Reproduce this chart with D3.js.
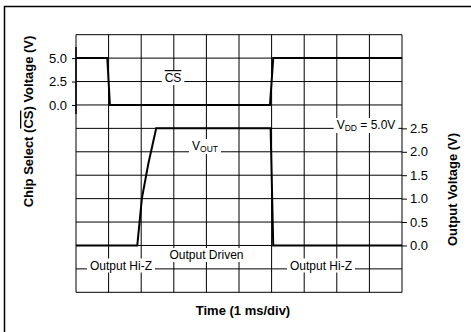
<!DOCTYPE html>
<html>
<head>
    <title>CS to Output Timing</title>
    <script src="https://d3js.org/d3.v7.min.js"></script>
    <style>
        body { margin: 0; background: #fff; }
        text { font-family: "Liberation Sans", Arial, sans-serif; fill: #000; }
    </style>
</head>
<body>
    <div id="chart"></div>

    <script>
        // Data (time in ms)
        var csTime = [0, 0.96, 1.04, 5.95, 6.05, 10];
        var csVolts = [5, 5, 0, 0, 5, 5];
        var outTime = [0, 1.88, 2.02, 2.22, 2.46, 5.97, 6.05, 10];
        var outVolts = [0, 0, 1.0, 1.75, 2.5, 2.5, 0, 0];

        var csTicks = [0, 2.5, 5];
        var csTickLabels = ["0.0", "2.5", "5.0"];
        var outTicks = [0, 0.5, 1, 1.5, 2, 2.5];
        var outTickLabels = ["0.0", "0.5", "1.0", "1.5", "2.0", "2.5"];

        var width = 471, height = 332;
        var plotL = 76, plotR = 402, plotT = 34.7, plotB = 292.3;

        var svg = d3.select("#chart").append("svg")
            .attr("width", width)
            .attr("height", height);

        // outer frame (runs off the right and bottom of the picture)
        svg.append("path")
            .attr("d", "M4.5," + height + " V6.5 H" + (width + 5))
            .attr("fill", "none")
            .attr("stroke", "#000")
            .attr("stroke-width", 1.5);

        // scales
        var x = d3.scaleLinear().domain([0, 10]).range([plotL, plotR]);
        var div = d3.scaleLinear().domain([0, 11]).range([plotT, plotB]);   // vertical divisions
        var yCS = d3.scaleLinear().domain([0, 5]).range([div(3), div(1)]);
        var yOut = d3.scaleLinear().domain([0, 2.5]).range([div(9), div(4)]);

        // grid
        var grid = svg.append("g").attr("stroke", "#000").attr("stroke-width", 1);
        grid.selectAll("line.v")
            .data(d3.range(0, 11))
            .enter().append("line")
            .attr("x1", function(d) { return x(d); })
            .attr("x2", function(d) { return x(d); })
            .attr("y1", plotT).attr("y2", plotB);
        grid.selectAll("line.h")
            .data(d3.range(0, 12))
            .enter().append("line")
            .attr("y1", function(d) { return div(d); })
            .attr("y2", function(d) { return div(d); })
            .attr("x1", plotL).attr("x2", plotR);

        // left axis (CS) and right axis (Vout)
        var axisL = d3.axisLeft(yCS).tickValues(csTicks)
            .tickFormat(function(d, i) { return csTickLabels[i]; })
            .tickSize(4).tickPadding(5);
        var gL = svg.append("g").attr("transform", "translate(" + plotL + ",0)").call(axisL);
        gL.select(".domain").attr("d", "M0," + (yCS(5) - 11) + "V" + (yCS(0) + 9)).attr("stroke-width", 1.5);

        var axisR = d3.axisRight(yOut).tickValues(outTicks)
            .tickFormat(function(d, i) { return outTickLabels[i]; })
            .tickSize(5).tickPadding(3);
        var gR = svg.append("g").attr("transform", "translate(" + plotR + ",0)").call(axisR);
        gR.select(".domain").remove();

        svg.selectAll(".tick text")
            .attr("font-family", "Liberation Sans, Arial, sans-serif")
            .attr("font-size", 13)
            .attr("fill", "#000");
        svg.selectAll(".tick line").attr("stroke", "#000");

        // labels with white backgrounds sitting on the grid
        function label(px, py, anchor, build) {
            var g = svg.append("g");
            var t = g.append("text")
                .attr("x", px).attr("y", py)
                .attr("text-anchor", anchor)
                .attr("font-size", 12);
            build(t);
            var b = t.node().getBBox();
            g.insert("rect", "text")
                .attr("x", b.x - 3).attr("y", b.y)
                .attr("width", b.width + 6).attr("height", b.height)
                .attr("fill", "#fff");
            return t;
        }

        label(173, 82, "middle", function(t) {
            t.append("tspan").text("CS").style("text-decoration", "overline");
        });
        label(205, 150, "middle", function(t) {
            t.append("tspan").text("V");
            t.append("tspan").attr("font-size", 8.5).attr("dy", 2).text("OUT");
        });
        label(366, 129, "middle", function(t) {
            t.append("tspan").text("V");
            t.append("tspan").attr("font-size", 8.5).attr("dy", 2).text("DD");
            t.append("tspan").attr("dy", -2).text(" = 5.0V");
        });
        label(206.5, 259, "middle", function(t) { t.text("Output Driven"); });
        label(121, 269.5, "middle", function(t) { t.text("Output Hi-Z"); });
        label(321, 269.5, "middle", function(t) { t.text("Output Hi-Z"); });

        // traces
        var csLine = d3.line()
            .x(function(d, i) { return x(csTime[i]); })
            .y(function(d, i) { return yCS(csVolts[i]); });
        var outLine = d3.line()
            .x(function(d, i) { return x(outTime[i]); })
            .y(function(d, i) { return yOut(outVolts[i]); });

        svg.append("path")
            .attr("d", csLine(csVolts))
            .attr("fill", "none").attr("stroke", "#000").attr("stroke-width", 2);
        svg.append("path")
            .attr("d", outLine(outVolts))
            .attr("fill", "none").attr("stroke", "#000").attr("stroke-width", 2);

        // axis titles
        var leftTitle = svg.append("text")
            .attr("transform", "translate(33,121.5) rotate(-90)")
            .attr("text-anchor", "middle")
            .attr("font-size", 13)
            .attr("font-weight", "bold");
        leftTitle.append("tspan").text("Chip Select (");
        leftTitle.append("tspan").text("CS").style("text-decoration", "overline");
        leftTitle.append("tspan").text(") Voltage (V)");

        svg.append("text")
            .attr("transform", "translate(456.5,189.5) rotate(-90)")
            .attr("text-anchor", "middle")
            .attr("font-size", 13)
            .attr("font-weight", "bold")
            .text("Output Voltage (V)");

        svg.append("text")
            .attr("x", 243).attr("y", 315)
            .attr("text-anchor", "middle")
            .attr("font-size", 13)
            .attr("font-weight", "bold")
            .text("Time (1 ms/div)");
    </script>
</body>
</html>
